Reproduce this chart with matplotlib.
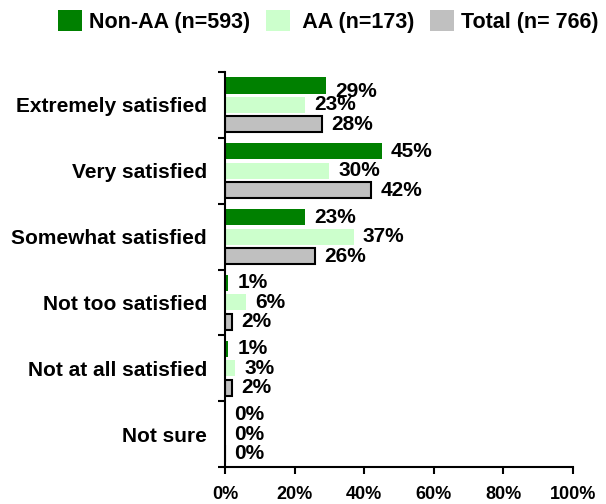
import matplotlib
matplotlib.use("Agg")
import matplotlib.pyplot as plt
from matplotlib.patches import Patch
import numpy as np

categories = ["Extremely satisfied", "Very satisfied", "Somewhat satisfied",
              "Not too satisfied", "Not at all satisfied", "Not sure"]
non_aa = [29, 45, 23, 1, 1, 0]
aa = [23, 30, 37, 6, 3, 0]
total = [28, 42, 26, 2, 2, 0]
series_names = ["Non-AA (n=593)", " AA (n=173)", "Total (n= 766)"]
colors = ['#008000', '#ccffcc', '#c0c0c0']
x_ticks = [0, 20, 40, 60, 80, 100]
x_ticklabels = ["0%", "20%", "40%", "60%", "80%", "100%"]

plt.rcParams['font.family'] = ['Liberation Sans', 'DejaVu Sans']
plt.rcParams['font.weight'] = 'bold'

fig = plt.figure(figsize=(6.06, 5.04), dpi=100)
ax = fig.add_axes([225/606, 37/504, 348/606, 395/504])

y = np.arange(len(categories))
off = 0.295
h = 0.245
c1 = ax.barh(y - off, non_aa, height=h, color=colors[0])
c2 = ax.barh(y, aa, height=h, color=colors[1])
c3 = ax.barh(y + off, total, height=h, color=colors[2], edgecolor='black',
             linewidth=1.5)

label_sets = []
for c in (c1, c2, c3):
    label_sets.append(ax.bar_label(c, fmt='{:.0f}%', padding=6.5, fontsize=15,
                                   fontweight='bold'))
# first label sits slightly low in the original
a0 = label_sets[0][0]
a0.xyann = (a0.xyann[0], a0.xyann[1] - 4)

ax.set_xlim(0, 100)
ax.set_ylim(len(categories) - 0.5, -0.5)
ax.set_xticks(x_ticks)
ax.set_xticklabels(x_ticklabels, fontsize=13, fontweight='bold')
ax.set_yticks(np.arange(len(categories) + 1) - 0.5)
ax.set_yticklabels([])
ax.set_yticks(y, minor=True)
ax.set_yticklabels(categories, minor=True, fontsize=15, fontweight='bold')
ax.tick_params(axis='y', which='minor', length=0, pad=13)
ax.tick_params(axis='y', which='major', length=5, width=1.5, direction='out')
ax.tick_params(axis='x', length=5, width=1.5, direction='out', pad=8.5)

for s in ['top', 'right']:
    ax.spines[s].set_visible(False)
for s in ['left', 'bottom']:
    ax.spines[s].set_linewidth(1.5)

handles = [Patch(facecolor=col, edgecolor='none') for col in colors]
fig.legend(handles, series_names, loc='upper left',
           bbox_to_anchor=(58/606, 1 - 10/504), ncol=3,
           frameon=False, handlelength=1.1, handleheight=1.1,
           handletextpad=0.33, columnspacing=0.75, borderpad=0, borderaxespad=0,
           prop={'weight': 'bold', 'size': 15.5})

fig.savefig("out.png", dpi=100)
